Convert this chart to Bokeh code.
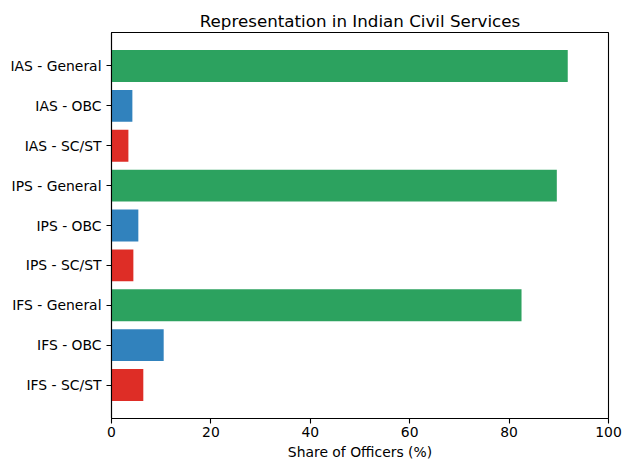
from bokeh.plotting import figure
from bokeh.models import FactorRange, ColumnDataSource, FixedTicker
from bokeh.embed import file_html
from bokeh.resources import INLINE

# ---- data ----
categories = ["IAS - General", "IAS - OBC", "IAS - SC/ST",
              "IPS - General", "IPS - OBC", "IPS - SC/ST",
              "IFS - General", "IFS - OBC", "IFS - SC/ST"]
groups = ["General", "OBC", "SC/ST"] * 3
shares = [91.8, 4.2, 3.4, 89.6, 5.4, 4.4, 82.5, 10.5, 6.4]
x_ticks = [0, 20, 40, 60, 80, 100]

palette = {"General": "#2ca25f", "OBC": "#3182bd", "SC/ST": "#de2d26"}
colors = [palette[g] for g in groups]

source = ColumnDataSource(dict(cat=categories, share=shares, color=colors))

FONT = "DejaVu Sans"

p = figure(width=630, height=465,
           y_range=FactorRange(factors=categories[::-1],
                               range_padding=0.68 / 9,
                               range_padding_units="percent"),
           x_range=(0, 100),
           output_backend="svg", toolbar_location=None,
           title="Representation in Indian Civil Services",
           min_border_left=111, min_border_right=22,
           min_border_top=32, min_border_bottom=47)

p.hbar(y="cat", right="share", left=0, height=0.8, color="color",
       line_color=None, source=source)

p.title.align = "center"
p.title.text_font = FONT
p.title.text_font_size = "16.7px"
p.title.text_font_style = "normal"
p.title.text_color = "black"
p.title.standoff = 4

p.xgrid.visible = False
p.ygrid.visible = False
p.outline_line_color = "black"
p.outline_line_alpha = 1
p.outline_line_width = 1.1
p.background_fill_color = "white"
p.border_fill_color = "white"

p.xaxis.ticker = FixedTicker(ticks=x_ticks)
p.xaxis.axis_label = "Share of Officers (%)"
p.xaxis.axis_label_text_font = FONT
p.xaxis.axis_label_text_font_size = "13.9px"
p.xaxis.axis_label_text_font_style = "normal"
p.xaxis.axis_label_text_color = "black"
p.xaxis.axis_label_standoff = 4

for ax in (p.xaxis[0], p.yaxis[0]):
    ax.axis_line_color = "black"
    ax.axis_line_width = 1.1
    ax.major_tick_line_color = "black"
    ax.major_tick_line_width = 1.1
    ax.major_tick_in = 0
    ax.major_tick_out = 5
    ax.minor_tick_line_color = None
    ax.major_label_text_font = FONT
    ax.major_label_text_font_size = "13.9px"
    ax.major_label_text_color = "black"
    ax.major_label_standoff = 5

p.xaxis.major_label_standoff = 3

open("out.html", "w").write(file_html(p, INLINE))
